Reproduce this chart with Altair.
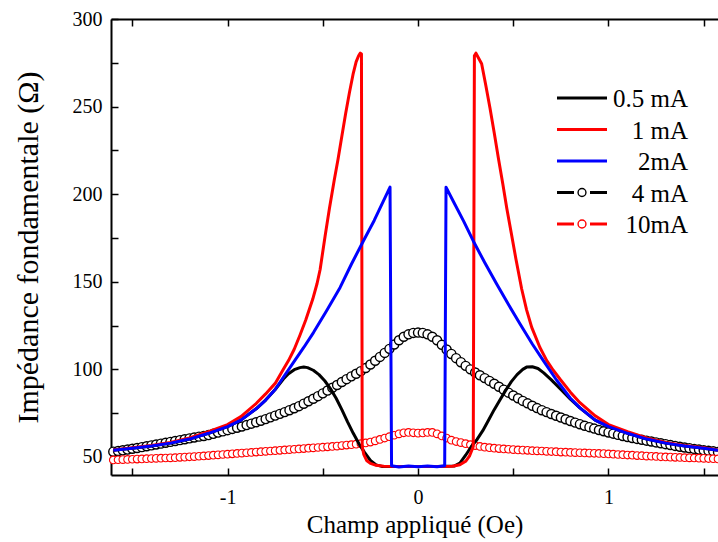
import altair as alt
import pandas as pd

FONT = "Liberation Serif"

series_names = ["0.5 mA", "1 mA", "2mA", "4 mA", "10mA"]
series_colors = ["#000000", "#ff0000", "#0000ff", "#000000", "#ff0000"]

# ---- 0.5 mA (black line)
h05_x = [-1.6, -1.5, -1.4, -1.3, -1.2, -1.1, -1.0, -0.93, -0.85, -0.8, -0.75, -0.707,
         -0.68, -0.65, -0.62, -0.6, -0.58, -0.55, -0.52, -0.49, -0.46, -0.43, -0.4, -0.37,
         -0.34, -0.31, -0.28, -0.25, -0.22, -0.19, -0.1, 0.0, 0.1, 0.19, 0.22, 0.25, 0.28,
         0.31, 0.34, 0.37, 0.4, 0.43, 0.46, 0.49, 0.52, 0.55, 0.57, 0.6, 0.63, 0.66, 0.7,
         0.75, 0.8, 0.85, 0.93, 1.0, 1.1, 1.2, 1.3, 1.4, 1.5, 1.575]
z05_y = [53.8, 55.0, 56.3, 57.9, 60.2, 63.5, 67.3, 71.0, 77.5, 82.5, 88.5, 94.5,
         97.5, 99.8, 101.0, 101.3, 101.0, 99.5, 97.0, 93.5, 89.0, 83.5, 77.0, 70.0,
         63.5, 57.5, 52.5, 48.0, 45.5, 44.6, 44.5, 44.5, 44.5, 44.8, 46.5, 51.0, 56.0,
         60.0, 65.0, 71.0, 77.0, 82.5, 88.0, 93.0, 97.0, 100.0, 101.3, 101.5, 100.5, 98.0, 94.0,
         88.5, 83.0, 78.0, 71.0, 67.3, 63.5, 60.2, 57.9, 56.3, 55.0, 53.8]

# ---- 1 mA (red line)
h1_x = [-1.6, -1.5, -1.4, -1.3, -1.2, -1.1, -1.0, -0.93, -0.85, -0.8, -0.75, -0.71, -0.68,
        -0.65, -0.62, -0.59, -0.553, -0.53, -0.514, -0.488, -0.465, -0.44, -0.42, -0.40,
        -0.38, -0.36, -0.34, -0.325, -0.312, -0.303, -0.297, -0.293, -0.285, -0.27, -0.25,
        -0.22, -0.18, 0.0, 0.18, 0.22, 0.25, 0.27, 0.283, 0.29, 0.296, 0.304, 0.334, 0.356,
        0.378, 0.40, 0.422, 0.445, 0.466, 0.49, 0.514, 0.544, 0.57, 0.597, 0.64, 0.676,
        0.71, 0.745, 0.8, 0.85, 0.93, 1.0, 1.1, 1.2, 1.3, 1.4, 1.5, 1.575]
z1_y = [54.0, 55.2, 56.6, 58.3, 60.8, 64.4, 68.5, 73.0, 80.5, 86.0, 92.0, 99.5, 105.0,
        111.5, 119.5, 128.0, 140.0, 149.0, 157.0, 176.0, 192.0, 208.0, 220.0, 233.0,
        246.0, 258.0, 269.0, 275.5, 279.0, 280.5, 280.0, 56.0, 51.5, 48.0, 46.3,
        45.2, 44.7, 44.5, 44.7, 45.5, 47.5, 50.5, 54.0, 56.0, 279.0, 280.5, 274.5, 262.0,
        249.0, 235.0, 220.5, 206.0, 192.0, 177.5, 163.0, 146.0, 134.0, 124.0, 112.5, 105.0,
        99.5, 94.5, 87.0, 81.0, 73.5, 68.5, 64.4, 60.8, 58.3, 56.6, 55.2, 54.0]

# ---- 2 mA (blue line)
h2_x = [-1.6, -1.5, -1.4, -1.3, -1.2, -1.1, -1.0, -0.93, -0.85, -0.8, -0.75, -0.707,
        -0.66, -0.6, -0.549, -0.48, -0.409, -0.35, -0.287, -0.23, -0.182, -0.147, -0.139,
        -0.1, -0.05, 0.0, 0.05, 0.1, 0.140, 0.147, 0.185, 0.24, 0.29, 0.35,
        0.413, 0.475, 0.535, 0.6, 0.658, 0.728, 0.8, 0.85, 0.93, 1.0, 1.1, 1.2, 1.3, 1.4,
        1.5, 1.575]
z2_y = [53.8, 55.0, 56.3, 57.9, 60.2, 63.5, 67.3, 71.0, 77.5, 82.5, 88.5, 95.5,
        103.0, 112.5, 121.0, 133.5, 146.8, 160.0, 173.3, 185.0, 196.0, 204.0, 45.0,
        44.3, 44.8, 44.4, 44.9, 44.4, 45.0, 204.0, 196.0, 184.5, 173.3, 161.0,
        148.7, 137.0, 126.0, 114.5, 105.0, 93.8, 83.5, 78.0, 71.0, 67.3, 63.5, 60.2, 57.9, 56.3,
        55.0, 53.8]

# ---- 4 mA and 10 mA (open circles), field from -1.6 Oe in 0.025 Oe steps
field_start, field_step = -1.6, 0.025
z4_y = [53.0, 53.4, 53.8, 54.2, 54.7, 55.1, 55.6, 56.1, 56.6, 57.1,
        57.6, 58.1, 58.6, 59.1, 59.6, 60.1, 60.6, 61.1, 61.6, 62.0,
        62.5, 63.2, 63.9, 64.6, 65.3, 66.0, 66.7, 67.4, 68.2, 69.0,
        69.8, 70.7, 71.6, 72.6, 73.6, 74.6, 75.6, 76.7, 77.8, 79.0,
        80.4, 81.8, 83.2, 84.7, 86.3, 87.9, 89.5, 91.1, 92.8, 94.4,
        96.0, 97.5, 99.0, 100.8, 102.8, 104.9, 107.1, 109.4, 111.7, 114.2,
        116.6, 118.6, 120.0, 120.8, 121.0,
        120.8, 120.0, 118.6, 116.6, 114.0, 111.3, 108.8, 106.4, 104.1, 102.0,
        100.0, 98.2, 96.6, 95.0, 93.4, 91.8, 90.1, 88.4, 86.7, 85.1,
        83.5, 82.0, 80.6, 79.2, 77.9, 76.7, 75.6, 74.5, 73.5, 72.5,
        71.5, 70.5, 69.6, 68.7, 67.8, 67.0, 66.2, 65.4, 64.7, 64.0,
        63.3, 62.6, 62.0, 61.4, 60.8, 60.3, 59.8, 59.3, 58.8, 58.3,
        57.8, 57.3, 56.8, 56.3, 55.8, 55.4, 55.0, 54.6, 54.2, 53.8,
        53.5, 53.2, 52.9]
z10_y = [48.3, 48.4, 48.5, 48.6, 48.7, 48.8, 48.9, 49.0, 49.1, 49.2,
         49.3, 49.4, 49.5, 49.6, 49.8, 49.9, 50.1, 50.2, 50.4, 50.6,
         50.8, 51.0, 51.2, 51.4, 51.6, 51.8, 52.0, 52.2, 52.4, 52.6,
         52.8, 53.0, 53.2, 53.4, 53.6, 53.8, 54.0, 54.2, 54.4, 54.6,
         54.8, 55.0, 55.2, 55.4, 55.6, 55.8, 56.0, 56.2, 56.5, 56.8,
         57.0, 57.3, 57.6, 58.0, 58.5, 59.2, 60.0, 60.8, 61.6, 62.4,
         63.2, 63.8, 64.0, 63.8, 63.6,
         63.7, 64.0, 64.0, 63.2, 62.0, 60.8, 59.6, 58.8, 58.2, 57.6,
         57.0, 56.5, 56.0, 55.6, 55.3, 55.0, 54.8, 54.6, 54.4, 54.2,
         54.0, 53.9, 53.8, 53.6, 53.5, 53.4, 53.2, 53.1, 53.0, 52.8,
         52.7, 52.6, 52.5, 52.4, 52.3, 52.2, 52.1, 52.0, 51.9, 51.7,
         51.6, 51.4, 51.3, 51.1, 51.0, 50.8, 50.7, 50.5, 50.4, 50.3,
         50.1, 50.0, 49.9, 49.8, 49.7, 49.6, 49.5, 49.4, 49.3, 49.2,
         49.1, 49.0, 48.9]

assert len(h05_x) == len(z05_y)
assert len(h1_x) == len(z1_y)
assert len(h2_x) == len(z2_y)
assert len(z4_y) == len(z10_y)

x_ticks = [-1.5, -1.0, -0.5, 0.0, 0.5, 1.0, 1.5]
x_labels = [-1, 0, 1]
y_ticks = [50, 75, 100, 125, 150, 175, 200, 225, 250, 275, 300]
y_labels = [50, 100, 150, 200, 250, 300]

# ---------------- tables
rows = []
for name, xs, ys in [("0.5 mA", h05_x, z05_y), ("1 mA", h1_x, z1_y), ("2mA", h2_x, z2_y)]:
    for i, (a, b) in enumerate(zip(xs, ys)):
        rows.append({"series": name, "x": a, "y": b, "i": i})
lines_df = pd.DataFrame(rows)

field = [round(field_start + i * field_step, 4) for i in range(len(z4_y))]
pts4_df = pd.DataFrame({"x": field, "y": z4_y})
pts10_df = pd.DataFrame({"x": field, "y": z10_y})

W, H = 607, 456
x_scale = alt.Scale(domain=[-1.612, 1.575], nice=False, zero=False)
y_scale = alt.Scale(domain=[39.7, 300], nice=False, zero=False)

# axes
ax_x_labels = alt.Axis(orient="bottom", values=x_labels, labelExpr="'' + datum.value",
                       ticks=False, tickSize=0, domain=True, domainColor="black",
                       domainWidth=2, labelPadding=12, labelFontSize=20, labelFont=FONT,
                       labelColor="black", title="Champ appliqué (Oe)", titleFont=FONT,
                       titleFontSize=25, titleFontWeight="normal", titleColor="black",
                       titlePadding=5, grid=False)
ax_x_bottom_ticks = alt.Axis(orient="top", offset=-H, values=x_ticks, labels=False,
                             domain=False, ticks=True, tickSize=7, tickWidth=1.5,
                             tickColor="black", title=None, grid=False)
ax_x_top = alt.Axis(orient="bottom", offset=-H, values=x_ticks, labels=False,
                    domain=True, domainColor="black", domainWidth=2, ticks=True,
                    tickSize=7, tickWidth=1.5, tickColor="black", title=None, grid=False)
ax_y_labels = alt.Axis(orient="left", values=y_labels, ticks=False, tickSize=0,
                       domain=True, domainColor="black", domainWidth=2, labelPadding=9,
                       labelFontSize=20, labelFont=FONT, labelColor="black",
                       title="Impédance fondamentale (Ω)", titleFont=FONT, titleFontSize=30,
                       titleFontWeight="normal", titleColor="black", titlePadding=29,
                       grid=False)
ax_y_ticks = alt.Axis(orient="right", offset=-W, values=y_ticks, labels=False,
                      domain=False, ticks=True, tickSize=7, tickWidth=1.5,
                      tickColor="black", title=None, grid=False)

pts4 = alt.Chart(pts4_df).mark_point(shape="circle", filled=False, fill="white",
                                     fillOpacity=1, stroke=series_colors[3],
                                     strokeWidth=1.4, size=82, opacity=1).encode(
    x=alt.X("x:Q", scale=x_scale, axis=ax_x_top),
    y=alt.Y("y:Q", scale=y_scale, axis=None),
)
pts10 = alt.Chart(pts10_df).mark_point(shape="circle", filled=False, fill="white",
                                       fillOpacity=1, stroke=series_colors[4],
                                       strokeWidth=1.1, size=58, opacity=1).encode(
    x=alt.X("x:Q", scale=x_scale, axis=ax_x_bottom_ticks),
    y=alt.Y("y:Q", scale=y_scale, axis=ax_y_ticks),
)

lines = alt.Chart(lines_df).mark_line(strokeWidth=3, strokeJoin="round").encode(
    x=alt.X("x:Q", scale=x_scale, axis=ax_x_labels),
    y=alt.Y("y:Q", scale=y_scale, axis=ax_y_labels),
    stroke=alt.Stroke("series:N", scale=alt.Scale(domain=series_names[:3],
                                                  range=series_colors[:3]), legend=None),
    order="i:Q",
)

# ---------------- legend (drawn in plot-area pixels)
LEG_X0, LEG_X1, LEG_XC, LEG_TXT = 446, 496, 471, 577
LEG_Y0, LEG_DY = 79, 31.5
legend_layers = []
for k, (name, col) in enumerate(zip(series_names, series_colors)):
    yk = LEG_Y0 + LEG_DY * k
    one = pd.DataFrame({"label": [name]})
    base = alt.Chart(one)
    if k < 3:
        legend_layers.append(base.mark_rule(strokeWidth=3, color=col).encode(
            x=alt.value(LEG_X0), x2=alt.value(LEG_X1), y=alt.value(yk)))
    else:
        legend_layers.append(base.mark_rule(strokeWidth=3, color=col).encode(
            x=alt.value(LEG_X0), x2=alt.value(LEG_XC - 8), y=alt.value(yk)))
        legend_layers.append(base.mark_rule(strokeWidth=3, color=col).encode(
            x=alt.value(LEG_XC + 8), x2=alt.value(LEG_X1), y=alt.value(yk)))
        legend_layers.append(base.mark_point(shape="circle", filled=False, fill="white",
                                             fillOpacity=1, stroke=col, strokeWidth=1.4,
                                             size=62, opacity=1).encode(
            x=alt.value(LEG_XC), y=alt.value(yk)))
    legend_layers.append(base.mark_text(font=FONT, fontSize=25, color="black",
                                        align="right", baseline="middle").encode(
        x=alt.value(LEG_TXT), y=alt.value(yk + 1), text="label:N"))

chart = alt.layer(pts4, pts10, lines, *legend_layers).resolve_axis(
    x="independent", y="independent"
).properties(
    width=W, height=H,
    padding={"left": 111, "top": 19, "right": 0, "bottom": 67},
    autosize=alt.AutoSizeParams(type="none"),
    background="white",
).configure_view(stroke=None)

chart.save("out.html", embed_options={"renderer": "svg", "actions": False})
